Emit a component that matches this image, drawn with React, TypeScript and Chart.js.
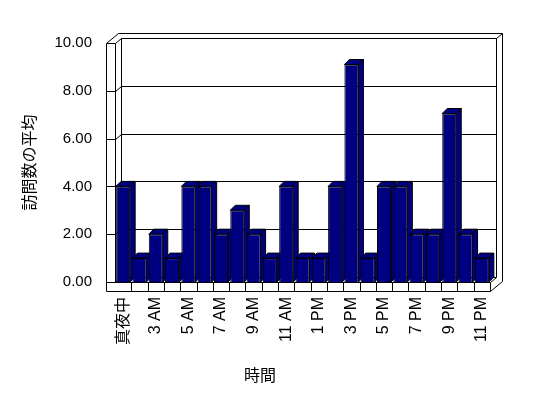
import React, { useEffect, useRef } from 'react';
import { Chart, registerables } from 'chart.js';

Chart.register(...registerables);

// ---- data ----
const categories = [
  '真夜中', '1 AM', '3 AM', '4 AM', '5 AM', '6 AM', '7 AM', '8 AM', '9 AM', '10 AM', '11 AM', '正午',
  '1 PM', '2 PM', '3 PM', '4 PM', '5 PM', '6 PM', '7 PM', '8 PM', '9 PM', '10 PM', '11 PM',
];
const visits = [4, 1, 2, 1, 4, 4, 2, 3, 2, 1, 4, 1, 1, 4, 9.1, 1, 4, 4, 2, 2, 7.05, 2, 1];
const yTickValues = [0, 2, 4, 6, 8, 10];
const xAxisTitle = '時間';
const yAxisTitle = '訪問数の平均';

// ---- style ----
const BAR_COLOR = '#000080';
const WALL_DX = 6;
const WALL_DY = -5;
const BAR_DX = 5;
const BAR_DY = -5;
const SLAB = 9;
const LATIN = "'Liberation Sans', Arial, sans-serif";
const CJK = "'Liberation Sans', 'Noto Sans CJK JP', sans-serif";

const threeD = {
  id: 'threeD',
  beforeDatasetsDraw(chart: any) {
    const { ctx, chartArea } = chart;
    const L = chartArea.left;
    const R = chartArea.right;
    const T = chartArea.top;
    const B = chartArea.bottom;
    const ys = chart.scales.y;
    ctx.save();
    ctx.strokeStyle = '#000';
    ctx.lineWidth = 1;
    const line = (...pts: number[][]) => {
      ctx.beginPath();
      pts.forEach((pt, i) => {
        const x = Math.round(pt[0]) + 0.5;
        const y = Math.round(pt[1]) + 0.5;
        if (i) ctx.lineTo(x, y);
        else ctx.moveTo(x, y);
      });
      ctx.stroke();
    };
    const OL = L - SLAB;
    // back wall inner face
    line([L + WALL_DX, B + WALL_DY], [L + WALL_DX, T + WALL_DY], [R + WALL_DX, T + WALL_DY], [R + WALL_DX, B + WALL_DY]);
    // gridlines on side wall + back wall
    yTickValues.forEach((v) => {
      const yv = ys.getPixelForValue(v);
      line([OL, yv], [L, yv], [L + WALL_DX, yv + WALL_DY], [R + WALL_DX, yv + WALL_DY]);
    });
    // outer frame
    line(
      [OL, B + SLAB],
      [OL, T],
      [OL + 2 * WALL_DX, T + 2 * WALL_DY],
      [R + 2 * WALL_DX, T + 2 * WALL_DY],
      [R + 2 * WALL_DX, B + SLAB + 2 * WALL_DY],
      [R, B + SLAB],
      [OL, B + SLAB],
    );
    line([R + WALL_DX, T + WALL_DY], [R + 2 * WALL_DX, T + 2 * WALL_DY]);
    line([L, T], [L, B], [R, B], [R + WALL_DX, B + WALL_DY]);
    line([R, B], [R, B + SLAB]);
    const n = categories.length;
    for (let k = 1; k < n; k++) {
      const x = L + (k * (R - L)) / n;
      line([x, B], [x, B + SLAB]);
    }
    // bar extrusions (top + side faces)
    const meta = chart.getDatasetMeta(0);
    ctx.fillStyle = BAR_COLOR;
    meta.data.forEach((bar: any) => {
      const { x, y, base, width } = bar.getProps(['x', 'y', 'base', 'width'], true);
      const x0 = x - width / 2;
      const x1 = x + width / 2;
      const poly = (pts: number[][]) => {
        ctx.beginPath();
        pts.forEach((pt, i) => (i ? ctx.lineTo(pt[0], pt[1]) : ctx.moveTo(pt[0], pt[1])));
        ctx.closePath();
        ctx.fill();
        ctx.stroke();
      };
      poly([[x0, y], [x1, y], [x1 + BAR_DX, y + BAR_DY], [x0 + BAR_DX, y + BAR_DY]]);
      poly([[x1, y], [x1 + BAR_DX, y + BAR_DY], [x1 + BAR_DX, base + BAR_DY], [x1, base]]);
    });
    ctx.restore();
  },
};

export default function App() {
  const ref = useRef<HTMLCanvasElement>(null);
  useEffect(() => {
    const chart = new Chart(ref.current as HTMLCanvasElement, {
      type: 'bar',
      data: {
        labels: categories,
        datasets: [
          {
            data: visits,
            backgroundColor: BAR_COLOR,
            borderColor: '#000',
            borderWidth: 1,
            barPercentage: 0.86,
            categoryPercentage: 1,
          },
        ],
      },
      options: {
        responsive: false,
        animation: false,
        color: '#000',
        layout: { padding: { top: 43, right: 30, left: 30, bottom: 0 } },
        plugins: {
          legend: { display: false },
          tooltip: { enabled: false },
          title: {
            display: true,
            text: xAxisTitle,
            position: 'bottom',
            color: '#000',
            font: { size: 16, family: CJK, weight: 'normal' },
            padding: { top: 0, bottom: 12 },
          },
        },
        scales: {
          x: {
            grid: { display: false, drawTicks: false },
            border: { display: false },
            ticks: {
              autoSkip: false,
              minRotation: 90,
              maxRotation: 90,
              padding: 15,
              color: '#000',
              font: { size: 16, family: CJK },
              callback: (_v: any, i: number) => (i % 2 === 0 ? categories[i] : null),
            },
            afterFit: (s: any) => {
              s.height = 84.8;
            },
          },
          y: {
            min: 0,
            max: 10,
            grid: { display: false, drawTicks: false },
            border: { display: false },
            ticks: {
              stepSize: 2,
              padding: 23,
              color: '#000',
              font: { size: 15, family: LATIN },
              callback: (v: any) => Number(v).toFixed(2),
            },
            title: {
              display: true,
              text: yAxisTitle,
              color: '#000',
              font: { size: 16, family: CJK },
              padding: { top: -8.6, bottom: 0 },
            },
            afterFit: (s: any) => {
              s.width = 85;
            },
          },
        },
      },
      plugins: [threeD],
    } as any);
    return () => chart.destroy();
  }, []);
  return (
    <div style={{ position: 'absolute', left: 0, top: 0, width: 548, height: 398, background: '#fff' }}>
      <canvas ref={ref} width={520} height={398} style={{ display: 'block' }} />
    </div>
  );
}
